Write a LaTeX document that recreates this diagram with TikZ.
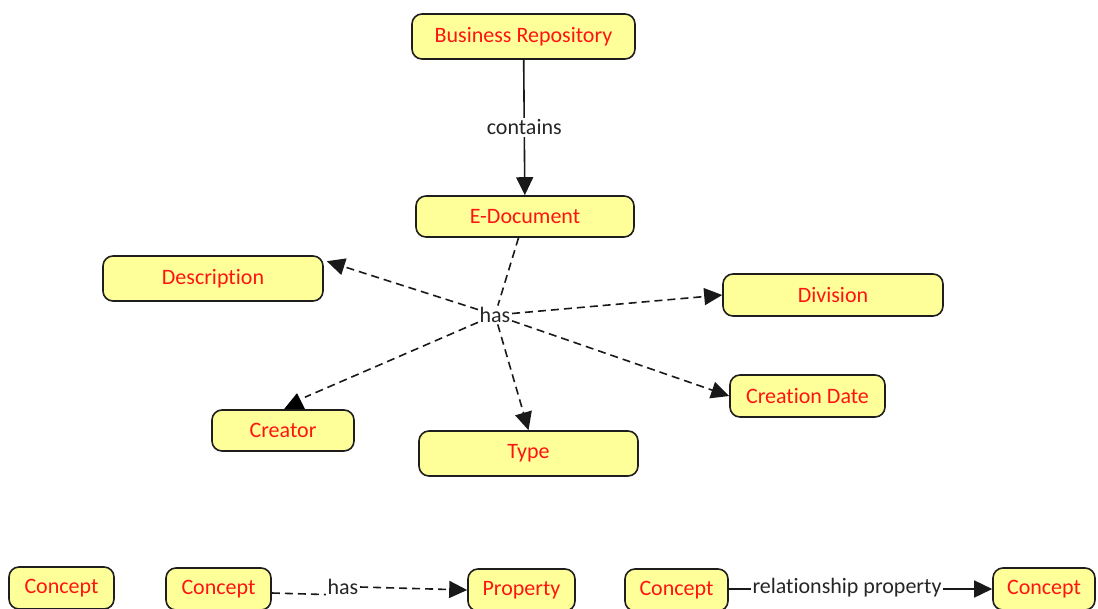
\documentclass[tikz,border=0pt]{standalone}
\usepackage{fontspec}
\setmainfont{Carlito}[Ligatures={NoCommon}]
\usetikzlibrary{arrows.meta}
\definecolor{boxfill}{RGB}{255,255,153}
\definecolor{boxline}{RGB}{30,30,30}
\definecolor{conceptred}{RGB}{255,20,20}
\begin{document}
\begin{tikzpicture}[x=1pt,y=-1pt,
  concept/.style={draw=boxline, line width=1.6pt, fill=boxfill, rounded corners=10pt,
    text=conceptred, font=\fontsize{22}{24}\selectfont, align=center, inner sep=0pt},
  linklabel/.style={text=black!85, font=\fontsize{22}{24}\selectfont, inner sep=1.5pt},
  link/.style={line width=1.6pt, draw=black!90},
  dlink/.style={link, dash pattern=on 8pt off 5pt},
  tip/.style={-{Triangle[length=18pt,width=17pt]}}
]
\useasboundingbox (0,0) rectangle (1098,608);
\clip (0,0) rectangle (1098,608);

% main concept map
\node[concept, minimum width=223pt, minimum height=45pt] (br)   at (523.5,36.5) {Business Repository};
\node[concept, minimum width=218pt, minimum height=41pt] (ed)   at (525,216.5) {E-Document};
\node[concept, minimum width=220pt, minimum height=45pt] (desc) at (213,278.5) {Description};
\node[concept, minimum width=220pt, minimum height=42pt] (div)  at (833,295) {Division};
\node[concept, minimum width=142pt, minimum height=41pt] (crt)  at (283,430.5) {Creator};
\node[concept, minimum width=219pt, minimum height=45pt] (typ)  at (528.5,453.5) {Type};
\node[concept, minimum width=155pt, minimum height=42pt] (cd)   at (807.5,396) {Creation Date};

\node[linklabel] (has) at (495,315) {has};

\draw[link, tip] (br) -- node[linklabel, fill=white] (contains) {contains} (ed);

\draw[dlink] (ed) -- (has);
\draw[dlink, tip] (has) -- ([shift={(3,6)}]desc.north east);
\draw[dlink, tip] (has) -- (div.west);
\draw[dlink, tip] (has) -- (cd.west);
\draw[dlink, tip] (has) -- (typ.north);
\draw[dlink] (has) -- ([shift={(22,-12)}]crt.north) coordinate (crtend);
\fill[black] ([shift={(14,-16)}]crt.north) -- ([shift={(22,0)}]crt.north) -- ([shift={(1,0)}]crt.north) -- cycle;

% legend row
\node[concept, minimum width=105pt, minimum height=42pt] (c1) at (61.5,588) {Concept};
\node[concept, minimum width=105pt, minimum height=42pt] (c2) at (218.5,589) {Concept};
\node[concept, minimum width=107pt, minimum height=42pt] (pr) at (521.5,590) {Property};
\node[concept, minimum width=103pt, minimum height=42pt] (c3) at (676.5,590) {Concept};
\node[concept, minimum width=102pt, minimum height=42pt] (c4) at (1044,589) {Concept};

\node[linklabel] (has2) at (343,587) {has};
\node[linklabel] (rel) at (847,588) {relationship property};

\draw[dlink] (c2.east |- 0,593) -- (has2.base west);
\draw[dlink, tip] (has2.east) -- (pr.west);
\draw[link] (c3.east |- 0,589) -- (rel.west |- 0,589);
\draw[link, tip] (rel.east |- 0,589) -- (c4.west |- 0,589);
\end{tikzpicture}
\end{document}
